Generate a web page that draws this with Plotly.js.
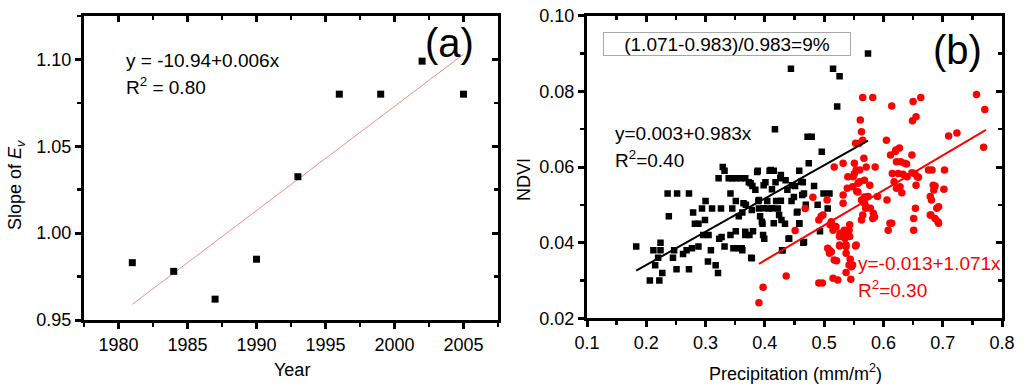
<!DOCTYPE html>
<html><head><meta charset="utf-8">
<script src="https://cdn.plot.ly/plotly-3.0.1.min.js"></script>
<style>html,body{margin:0;padding:0;background:#fff}#chart{width:1024px;height:392px}</style>
</head><body><div id="chart"></div>
<script>
// ---------- Panel (a) data ----------
const years = [1981, 1984, 1987, 1990, 1993, 1996, 1999, 2002, 2005];
const slopeEv = [0.983, 0.978, 0.962, 0.985, 1.0325, 1.080, 1.080, 1.099, 1.080];
const fitAYears = [1981, 2005];
const fitASlope = [0.959, 1.103];
const yearTicks = [1980, 1985, 1990, 1995, 2000, 2005];
const yearTickText = ['1980', '1985', '1990', '1995', '2000', '2005'];
const slopeTicks = [0.95, 1.00, 1.05, 1.10];
const slopeTickText = ['0.95', '1.00', '1.05', '1.10'];

// ---------- Panel (b) data ----------
const precipBlack = [
  0.183,0.206,0.222,0.212,0.215,0.224,0.224,0.220,0.227,0.236,
  0.238,0.252,0.272,0.247,0.251,0.245,0.262,0.272,0.268,0.277,
  0.279,0.282,0.288,0.288,0.294,0.296,0.299,0.300,0.304,0.305,
  0.309,0.311,0.317,0.321,0.322,0.329,0.332,0.326,0.323,0.327,
  0.332,0.339,0.345,0.351,0.359,0.342,0.345,0.351,0.342,0.351,
  0.347,0.355,0.362,0.356,0.362,0.368,0.367,0.374,0.380,0.377,
  0.373,0.379,0.388,0.384,0.389,0.390,0.392,0.396,0.397,0.399,
  0.401,0.404,0.407,0.408,0.415,0.417,0.418,0.419,0.422,0.426,
  0.428,0.430,0.434,0.438,0.440,0.444,0.445,0.451,0.454,0.458,
  0.458,0.464,0.465,0.466,0.469,0.472,0.479,0.474,0.483,0.489,
  0.493,0.496,0.499,0.506,0.509,0.515,0.526,0.522,0.574,
  0.387,0.410,0.427,0.367,0.376,0.398,0.412,0.435,0.446,0.461,
  0.463,0.449,0.427,0.390,0.364,0.378,0.398,0.412,0.424,0.455,
  0.395,0.415,0.458,0.367,0.441,0.466,0.361,0.378,0.429
];
const ndviBlack = [
  0.039,0.030,0.030,0.038,0.034,0.040,0.038,0.036,0.032,0.053,
  0.047,0.053,0.053,0.038,0.033,0.036,0.037,0.033,0.038,0.0385,
  0.048,0.045,0.039,0.045,0.049,0.042,0.046,0.051,0.035,0.042,
  0.038,0.049,0.034,0.032,0.057,0.060,0.059,0.049,0.041,0.0415,
  0.039,0.057,0.057,0.057,0.057,0.053,0.049,0.051,0.042,0.043,
  0.0385,0.0385,0.038,0.047,0.048,0.050,0.042,0.042,0.043,0.036,
  0.056,0.055,0.059,0.054,0.051,0.049,0.047,0.045,0.042,0.041,
  0.056,0.051,0.049,0.059,0.059,0.070,0.056,0.051,0.049,0.057,
  0.046,0.038,0.045,0.054,0.041,0.086,0.051,0.055,0.048,0.059,
  0.045,0.056,0.040,0.053,0.050,0.068,0.068,0.061,0.055,0.050,
  0.043,0.064,0.053,0.049,0.053,0.086,0.084,0.076,0.090,
  0.0587,0.0592,0.0579,0.057,0.0557,0.0552,0.0541,0.0565,0.0552,0.0561,
  0.0526,0.0521,0.0511,0.0513,0.0504,0.0486,0.0491,0.0491,0.0473,0.0482,
  0.0455,0.0451,0.0451,0.0429,0.0411,0.0402,0.0385,0.0359,0.038
];
const precipRed = [
  0.390,0.397,0.436,0.451,0.468,0.481,0.491,0.495,0.498,0.491,
  0.497,0.505,0.506,0.509,0.512,0.510,0.515,0.517,0.519,0.521,
  0.523,0.526,0.527,0.532,0.532,0.532,0.535,0.536,0.537,0.537,
  0.539,0.540,0.542,0.543,0.544,0.537,0.542,0.545,0.548,0.549,
  0.551,0.553,0.553,0.554,0.555,0.557,0.559,0.561,0.563,0.565,
  0.563,0.563,0.565,0.567,0.568,0.570,0.571,0.574,0.577,0.578,
  0.582,0.582,0.583,0.586,0.590,0.605,0.606,0.608,0.611,0.612,
  0.614,0.615,0.618,0.620,0.622,0.622,0.625,0.627,0.628,0.629,
  0.631,0.636,0.640,0.648,0.648,0.649,0.650,0.651,0.651,0.654,
  0.655,0.655,0.657,0.663,0.676,0.679,0.680,0.681,0.684,0.685,
  0.687,0.690,0.692,0.703,0.702,0.710,0.724,0.757,0.771,0.769,
  0.633,0.653,0.682,0.687,0.659,0.560,0.568,0.585,0.565,0.614,
  0.693,0.679,0.693,0.621,0.639,
  0.512,0.520,0.526,0.534,0.543,0.526,0.537,0.509,0.517,0.554,
  0.546,0.515,0.551,0.560,0.548,0.557,0.568,0.571
];
const ndviRed = [
  0.0241,0.0282,0.0312,0.0432,0.049,0.052,0.046,0.047,0.0473,0.0293,
  0.0293,0.0513,0.0385,0.0372,0.0376,0.0447,0.0433,0.060,0.0443,0.0352,
  0.0301,0.0391,0.0425,0.061,0.0504,0.0526,0.0411,0.0425,0.039,0.0372,
  0.0544,0.0574,0.0433,0.0416,0.0356,0.0321,0.0341,0.0303,0.0341,0.0574,
  0.061,0.0391,0.0663,0.0592,0.0535,0.0557,0.0663,0.0724,0.0693,0.0671,
  0.046,0.0513,0.0784,0.0623,0.0504,0.0491,0.060,0.0522,0.0552,0.0491,
  0.0784,0.0464,0.0478,0.060,0.0522,0.0671,0.0513,0.0433,0.0451,0.0632,
  0.0761,0.0583,0.0561,0.0641,0.0544,0.0614,0.0583,0.065,0.0548,0.0614,
  0.0532,0.061,0.0574,0.0632,0.0585,0.0722,0.0773,0.0464,0.0433,0.0491,
  0.0733,0.0552,0.0574,0.0784,0.0592,0.0522,0.0473,0.0513,0.0552,0.0539,
  0.0464,0.0491,0.0455,0.0592,0.0541,0.0682,0.069,0.0792,0.0752,0.0652,
  0.0581,0.0583,0.0592,0.055,0.0573,0.0561,0.0565,0.0468,0.0473,0.0451,
  0.0495,0.0473,0.0451,0.0645,0.0608,
  0.0455,0.0442,0.0416,0.0433,0.0447,0.0394,0.0394,0.038,0.0354,0.0394,
  0.0336,0.0306,0.0583,0.0592,0.0548,0.0534,0.0521,0.0495
];
const fitBlackX = [0.183, 0.574];
const fitBlackY = [0.0326, 0.067];
const fitRedX = [0.390, 0.773];
const fitRedY = [0.0344, 0.0698];
const precipTicks = [0.1, 0.2, 0.3, 0.4, 0.5, 0.6, 0.7, 0.8];
const precipTickText = ['0.1', '0.2', '0.3', '0.4', '0.5', '0.6', '0.7', '0.8'];
const ndviTicks = [0.02, 0.04, 0.06, 0.08, 0.10];
const ndviTickText = ['0.02', '0.04', '0.06', '0.08', '0.10'];

// ---------- Styling ----------
const FONT = 'Arial, "Liberation Sans", sans-serif';
const W = 1024, H = 392;
const PX = x => x / W, PY = y => 1 - y / H;
const RED = '#ff0000';

const lineStyle = { showline: true, linewidth: 3, linecolor: '#000', mirror: true };
const baseAx = Object.assign({}, lineStyle, {
  ticks: 'outside', ticklen: 6, tickwidth: 3, tickcolor: '#000',
  showgrid: false, zeroline: false, fixedrange: true,
  tickfont: { family: FONT, size: 18, color: '#000' }, tickmode: 'array'
});
const mirAx = Object.assign({}, lineStyle, {
  ticks: 'inside', ticklen: 6, tickwidth: 3, tickcolor: '#000',
  showticklabels: false, showgrid: false, zeroline: false, fixedrange: true, tickmode: 'array'
});
const minorOut = (d, t0) => ({ ticks: 'outside', ticklen: 4, tickwidth: 2.5, tickcolor: '#000', dtick: d, tick0: t0 });
const minorIn = (d, t0) => ({ ticks: 'inside', ticklen: 4, tickwidth: 2.5, tickcolor: '#000', dtick: d, tick0: t0 });

const rangeAx = [1977.5, 2007.5], rangeAy = [0.95, 1.125];
const rangeBx = [0.1, 0.8], rangeBy = [0.02, 0.10];
const domAx = [84 / W, 498 / W], domAy = [72 / H, 376 / H];
const domBx = [587 / W, 1002 / W], domBy = [73.7 / H, 376.3 / H];

const traces = [
  { type: 'scatter', mode: 'markers', x: [], y: [], xaxis: 'x3', yaxis: 'y3', hoverinfo: 'skip' },
  { type: 'scatter', mode: 'markers', x: [], y: [], xaxis: 'x4', yaxis: 'y4', hoverinfo: 'skip' },
  { type: 'scatter', mode: 'lines', x: fitAYears, y: fitASlope, xaxis: 'x', yaxis: 'y',
    line: { color: 'rgb(238,140,140)', width: 1 }, hoverinfo: 'skip' },
  { type: 'scatter', mode: 'markers', x: years, y: slopeEv, xaxis: 'x', yaxis: 'y',
    marker: { symbol: 'square', size: 7, color: '#000' } },
  { type: 'scatter', mode: 'markers', x: precipBlack, y: ndviBlack, xaxis: 'x2', yaxis: 'y2',
    marker: { symbol: 'square', size: 6.5, color: '#000' } },
  { type: 'scatter', mode: 'markers', x: precipRed, y: ndviRed, xaxis: 'x2', yaxis: 'y2',
    marker: { symbol: 'circle', size: 7.5, color: RED } },
  { type: 'scatter', mode: 'lines', x: fitBlackX, y: fitBlackY, xaxis: 'x2', yaxis: 'y2',
    line: { color: '#000', width: 2 } },
  { type: 'scatter', mode: 'lines', x: fitRedX, y: fitRedY, xaxis: 'x2', yaxis: 'y2',
    line: { color: RED, width: 2 } }
];

const ann = (text, x, y, opts) => Object.assign({
  text, x: PX(x), y: PY(y), xref: 'paper', yref: 'paper', showarrow: false,
  xanchor: 'left', yanchor: 'middle', font: { family: FONT, size: 19, color: '#000' }
}, opts || {});

const layout = {
  width: W, height: H, showlegend: false,
  margin: { l: 0, r: 0, t: 0, b: 0, pad: 0 },
  paper_bgcolor: '#fff', plot_bgcolor: 'rgba(0,0,0,0)',
  font: { family: FONT, color: '#000' },
  xaxis: Object.assign({}, baseAx, { domain: domAx, anchor: 'y', range: rangeAx,
    tickvals: yearTicks, ticktext: yearTickText, minor: minorOut(2.5, 1977.5) }),
  yaxis: Object.assign({}, baseAx, { domain: domAy, anchor: 'x', range: rangeAy,
    tickvals: slopeTicks, ticktext: slopeTickText, minor: minorOut(0.025, 0.95) }),
  xaxis3: Object.assign({}, mirAx, { domain: domAx, side: 'top', anchor: 'y3', range: rangeAx,
    tickvals: yearTicks, minor: minorIn(2.5, 1977.5) }),
  yaxis3: Object.assign({}, mirAx, { domain: domAy, side: 'right', anchor: 'x3', range: rangeAy,
    tickvals: slopeTicks, minor: minorIn(0.025, 0.95) }),
  xaxis2: Object.assign({}, baseAx, { domain: domBx, anchor: 'y2', range: rangeBx,
    tickvals: precipTicks, ticktext: precipTickText, minor: minorOut(0.05, 0.1) }),
  yaxis2: Object.assign({}, baseAx, { domain: domBy, anchor: 'x2', range: rangeBy,
    tickvals: ndviTicks, ticktext: ndviTickText, minor: minorOut(0.01, 0.02) }),
  xaxis4: Object.assign({}, mirAx, { domain: domBx, side: 'top', anchor: 'y4', range: rangeBx,
    tickvals: precipTicks, minor: minorIn(0.05, 0.1) }),
  yaxis4: Object.assign({}, mirAx, { domain: domBy, side: 'right', anchor: 'x4', range: rangeBy,
    tickvals: ndviTicks, minor: minorIn(0.01, 0.02) }),
  annotations: [
    ann('Year', 292, 370, { xanchor: 'center', font: { family: FONT, size: 18, color: '#000' } }),
    ann('Slope of <i>E</i><sub><i>v</i></sub>', 17, 185, { xanchor: 'center', textangle: -90, font: { family: FONT, size: 18, color: '#000' } }),
    ann('NDVI', 524, 180, { xanchor: 'center', textangle: -90, font: { family: FONT, size: 18, color: '#000' } }),
    ann('Precipitation (mm/m<sup>2</sup>)', 795, 372, { xanchor: 'center', font: { family: FONT, size: 18, color: '#000' } }),
    ann('y = -10.94+0.006x', 124, 60),
    ann('R<sup>2</sup> = 0.80', 124, 86),
    ann('(a)', 449, 43, { xanchor: 'center', font: { family: FONT, size: 40, color: '#000' } }),
    ann('(b)', 957, 50, { xanchor: 'center', font: { family: FONT, size: 40, color: '#000' } }),
    ann('(1.071-0.983)/0.983=9%', 726.7, 44.5, { xanchor: 'center', width: 246, height: 22,
      bordercolor: '#a8a8a8', borderwidth: 1, borderpad: 0, bgcolor: '#fff' }),
    ann('y=0.003+0.983x', 613, 133),
    ann('R<sup>2</sup>=0.40', 613, 159),
    ann('y=-0.013+1.071x', 856, 263, { font: { family: FONT, size: 19, color: RED } }),
    ann('R<sup>2</sup>=0.30', 856, 289, { font: { family: FONT, size: 19, color: RED } })
  ]
};

Plotly.newPlot('chart', traces, layout, { staticPlot: true, displayModeBar: false });
</script>
</body></html>
